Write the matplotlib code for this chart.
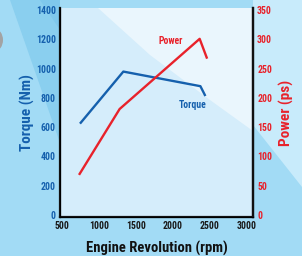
import matplotlib
matplotlib.use("Agg")
import matplotlib.pyplot as plt
from matplotlib import font_manager
from matplotlib.patches import Polygon, Ellipse

# data
rpm_torque = [755, 1330, 2370, 2430]
torque = [630, 980, 880, 820]
rpm_power = [740, 1280, 2360, 2455]
power = [70, 181, 301, 269]

x_ticks = [500, 1000, 1500, 2000, 2500, 3000]
torque_ticks = [0, 200, 400, 600, 800, 1000, 1200, 1400]
power_ticks = [0, 50, 100, 150, 200, 250, 300, 350]

BLUE = "#1560ad"
RED = "#e8222b"

# pick a narrow font if one is around
names = {f.name for f in font_manager.fontManager.ttflist}
narrow = [n for n in ["Liberation Sans Narrow", "DejaVu Sans Condensed", "Roboto Condensed"] if n in names]
plt.rcParams["font.family"] = narrow + ["DejaVu Sans"]
plt.rcParams["font.stretch"] = "condensed"
plt.rcParams["font.weight"] = "bold"

W, H = 302, 256
fig = plt.figure(figsize=(W / 100, H / 100), dpi=100)
fig.patch.set_facecolor("#a2dbf5")


def px(points):
    # pixel coords (origin top-left) -> figure fraction
    return [(x / W, 1 - y / H) for x, y in points]


def bg(points, color, z=0):
    fig.patches.append(Polygon(px(points), closed=True, transform=fig.transFigure,
                               facecolor=color, edgecolor="none", zorder=z))


# background bands
bg([(60, 0), (302, 0), (302, 187), (253, 125), (253, 0)], "#c8ebfb")
bg([(10, 0), (60, 0), (60, 143)], "#8acfef")
bg([(40, 0), (60, 0), (60, 30)], "#7fc8ec")
fig.patches.append(Ellipse((-5 / W, 1 - 40 / H), 16 / W, 22 / H, transform=fig.transFigure,
                           facecolor="#a3a3a3", edgecolor="none", zorder=1))

ax = fig.add_axes([60 / W, 1 - 217 / H, 193 / W, 209 / H])
ax.set_facecolor("none")
ax.set_zorder(2)

# light panel inside the axes
bg([(60, 8), (253, 8), (253, 217), (60, 217)], "#d5edfb", 1)
bg([(98, 8), (253, 8), (253, 131), (210, 100), (150, 55)], "#eaf6fd", 1)

ax.plot(rpm_torque, torque, color=BLUE, lw=1.7, solid_joinstyle="round")
ax.set_xlim(475, 3080)
ax.set_ylim(-15, 1415)
ax.set_xticks(x_ticks)
ax.set_yticks(torque_ticks)
ax.tick_params(length=0, labelsize=7, pad=3)
ax.tick_params(axis="y", labelcolor=BLUE)
ax.tick_params(axis="x", labelcolor="#1a1a1a")
ax.spines["top"].set_visible(False)
for s in ["left", "bottom", "right"]:
    ax.spines[s].set_linewidth(1.6)
    ax.spines[s].set_color("#111111")
ax.set_ylabel("Torque (Nm)", color=BLUE, fontsize=11, fontweight="bold", labelpad=0.5)
ax.set_xlabel("Engine Revolution (rpm)", color="#111111", fontsize=10.5, fontweight="bold", labelpad=7)

ax2 = ax.twinx()
ax2.plot(rpm_power, power, color=RED, lw=1.7, solid_joinstyle="round")
ax2.set_ylim(-3.75, 353.75)
ax2.set_yticks(power_ticks)
ax2.tick_params(length=0, labelsize=7, pad=3, labelcolor=RED)
ax2.spines["top"].set_visible(False)
ax2.spines["right"].set_linewidth(1.6)
ax2.spines["right"].set_color("#111111")
ax2.set_ylabel("Power (ps)", color=RED, fontsize=11, fontweight="bold", labelpad=5)

ax.text(1975, 1190, "Power", color=RED, fontsize=7, fontweight="bold", ha="center", va="center")
ax.text(2270, 752, "Torque", color=BLUE, fontsize=7, fontweight="bold", ha="center", va="center")

fig.savefig("out.png", dpi=100, facecolor=fig.get_facecolor())
